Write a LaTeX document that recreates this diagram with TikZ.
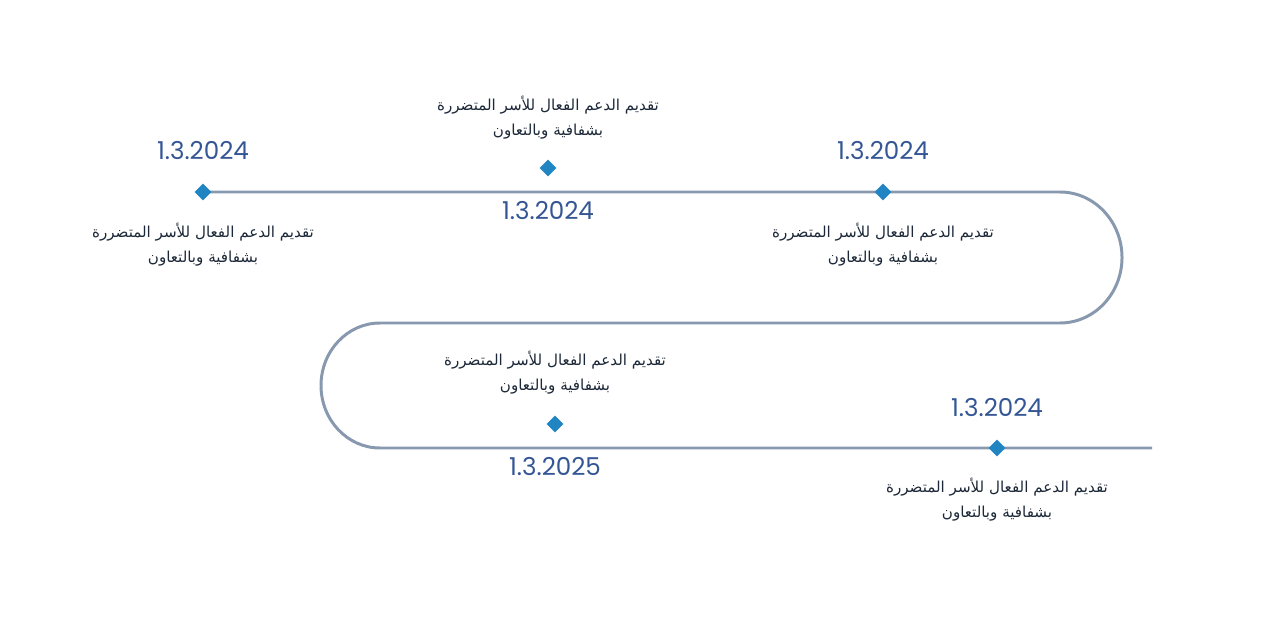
\documentclass[tikz,border=0pt]{standalone}
\usepackage{fontspec}
\usetikzlibrary{shapes.geometric,positioning}
\TeXXeTstate=1
\newfontfamily\arabicfont[Script=Arabic]{DejaVu Sans}
\newfontfamily\datefont{Poppins}

\begin{document}
\begin{tikzpicture}[x=0.02cm,y=0.02cm]
    % --- COLORS ---
    \definecolor{pathGray}{RGB}{136,152,174}
    \definecolor{markBlue}{RGB}{33,133,196}
    \definecolor{dateBlue}{RGB}{52,86,148}
    \definecolor{textNavy}{RGB}{28,40,56}

    % --- STYLES ---
    \tikzset{
        markNode/.style={diamond, fill=markBlue, inner sep=0pt, minimum width=0.34cm, minimum height=0.34cm},
        dateNode/.style={text=dateBlue, font=\datefont\fontsize{14}{16}\selectfont, inner sep=0pt},
        textNode/.style={text=textNavy, align=center, inner sep=0pt, font=\arabicfont\fontsize{8.6}{14.2}\selectfont},
        pathLine/.style={draw=pathGray, line width=1.7pt}
    }

    \useasboundingbox (0,0) rectangle (1280,643);

    % --- PATH ---
    \coordinate (m1) at (203,451);
    \coordinate (r1) at (1060,451);
    \coordinate (l1) at (380,320);
    \coordinate (e1) at (1152,195);

    \draw[pathLine] (m1) -- (r1) arc[start angle=90, end angle=-90, x radius=62, y radius=65.5]
        -- (l1) arc[start angle=90, end angle=270, x radius=59, y radius=62.5] -- (e1);

    % --- MARKERS ---
    \node[markNode] (d1) at (203,451) {};
    \node[markNode] (d2) at (548,475) {};
    \node[markNode] (d3) at (883,451) {};
    \node[markNode] (d4) at (555,219) {};
    \node[markNode] (d5) at (997,195) {};

    % --- DATES ---
    \node[dateNode, above=0.82cm of d1.center, anchor=center] (t1) {1.3.2024};
    \node[dateNode, below=0.86cm of d2.center, anchor=center] (t2) {1.3.2024};
    \node[dateNode, above=0.82cm of d3.center, anchor=center] (t3) {1.3.2024};
    \node[dateNode, below=0.86cm of d4.center, anchor=center] (t4) {1.3.2025};
    \node[dateNode, above=0.82cm of d5.center, anchor=center] (t5) {1.3.2024};

    % --- TEXTS ---
    \node[textNode, below=1.06cm of d1.center, anchor=center] (s1) {\beginR تقديم الدعم الفعال للأسر المتضررة\endR\\\beginR بشفافية وبالتعاون\endR};
    \node[textNode, above=1.0cm of d2.center, anchor=center] (s2) {\beginR تقديم الدعم الفعال للأسر المتضررة\endR\\\beginR بشفافية وبالتعاون\endR};
    \node[textNode, below=1.06cm of d3.center, anchor=center] (s3) {\beginR تقديم الدعم الفعال للأسر المتضررة\endR\\\beginR بشفافية وبالتعاون\endR};
    \node[textNode, above=1.02cm of d4.center, anchor=center] (s4) {\beginR تقديم الدعم الفعال للأسر المتضررة\endR\\\beginR بشفافية وبالتعاون\endR};
    \node[textNode, below=1.04cm of d5.center, anchor=center] (s5) {\beginR تقديم الدعم الفعال للأسر المتضررة\endR\\\beginR بشفافية وبالتعاون\endR};

\end{tikzpicture}
\end{document}
